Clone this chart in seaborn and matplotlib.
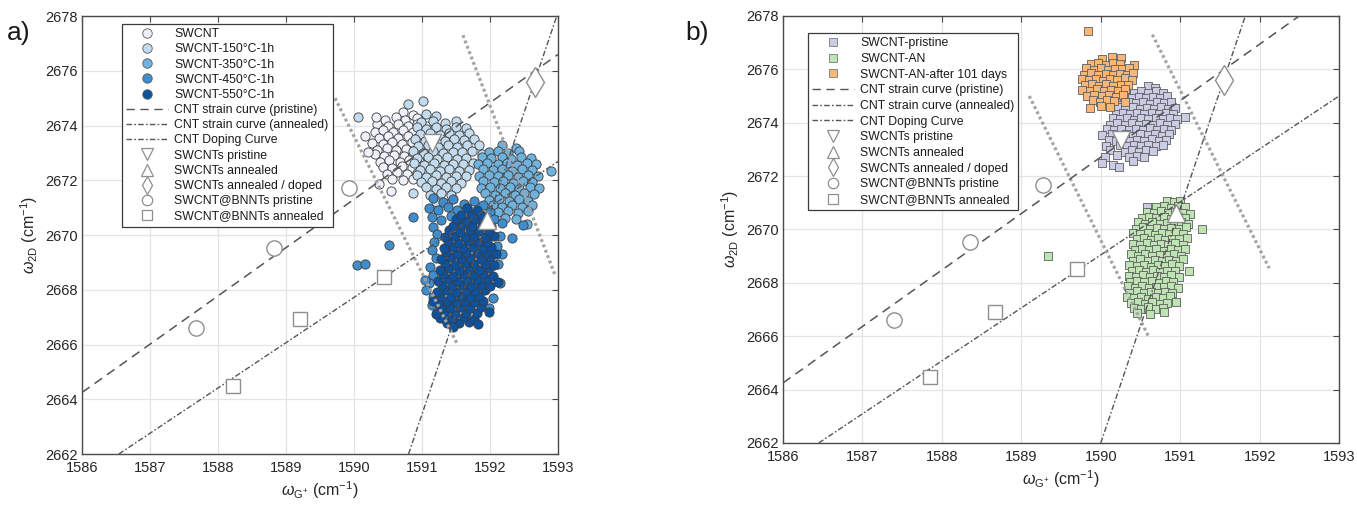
import matplotlib
matplotlib.use("Agg")
import matplotlib.pyplot as plt
from matplotlib.lines import Line2D
import pandas as pd
import seaborn as sns

sns.set_theme(style="white")
plt.rcParams["font.family"] = ["Liberation Sans", "DejaVu Sans"]
plt.rcParams["mathtext.fontset"] = "custom"
plt.rcParams["mathtext.rm"] = "Liberation Sans"
plt.rcParams["mathtext.it"] = "Liberation Sans:italic"

X_TICKS = [1586, 1587, 1588, 1589, 1590, 1591, 1592, 1593]
Y_TICKS = [2662, 2664, 2666, 2668, 2670, 2672, 2674, 2676, 2678]

# ====================== panel a: reference curves and points ======================
A_STRAIN_PRISTINE = [(1586.0, 2664.25), (1593.0, 2676.6)]
A_STRAIN_ANNEALED = [(1586.54, 2662.0), (1593.0, 2672.69)]
A_DOPING_CURVE = [(1590.8, 2662.0), (1592.98, 2678.0)]
A_GUIDE_LEFT = [(1589.72, 2675.0), (1591.52, 2666.0)]
A_GUIDE_RIGHT = [(1591.6, 2677.3), (1592.96, 2668.5)]
A_REF_SWCNT_PRISTINE = (1591.15, 2673.36)
A_REF_SWCNT_ANNEALED = (1591.95, 2670.55)
A_REF_SWCNT_DOPED = (1592.66, 2675.6)
A_REF_BNNT_PRISTINE_X = [1587.68, 1588.82, 1589.92]
A_REF_BNNT_PRISTINE_Y = [2666.62, 2669.52, 2671.70]
A_REF_BNNT_ANNEALED_X = [1588.22, 1589.20, 1590.44]
A_REF_BNNT_ANNEALED_Y = [2664.48, 2666.92, 2668.48]

# ====================== panel b: reference curves and points ======================
B_STRAIN_PRISTINE = [(1586.0, 2664.25), (1592.5, 2678.0)]
B_STRAIN_ANNEALED = [(1586.45, 2662.0), (1593.0, 2675.0)]
B_DOPING_CURVE = [(1590.0, 2662.0), (1591.82, 2678.0)]
B_GUIDE_LEFT = [(1589.1, 2675.0), (1590.6, 2666.0)]
B_GUIDE_RIGHT = [(1590.65, 2677.3), (1592.12, 2668.55)]
B_REF_SWCNT_PRISTINE = (1590.26, 2673.36)
B_REF_SWCNT_ANNEALED = (1590.95, 2670.6)
B_REF_SWCNT_DOPED = (1591.55, 2675.6)
B_REF_BNNT_PRISTINE_X = [1587.40, 1588.35, 1589.27]
B_REF_BNNT_PRISTINE_Y = [2666.62, 2669.52, 2671.65]
B_REF_BNNT_ANNEALED_X = [1587.85, 1588.67, 1589.70]
B_REF_BNNT_ANNEALED_Y = [2664.48, 2666.92, 2668.50]

# ====================== panel a: heat-treated SWCNT maps ======================
SWCNT_RT = [
    (1590.72, 2674.48), (1590.86, 2674.40),
    (1590.46, 2674.22), (1590.61, 2674.30), (1590.75, 2674.20), (1590.92, 2674.27),
    (1590.34, 2674.05), (1590.50, 2673.98), (1590.64, 2674.06), (1590.79, 2673.97), (1590.93, 2674.04), (1591.06, 2673.99),
    (1590.30, 2673.78), (1590.43, 2673.84), (1590.57, 2673.76), (1590.72, 2673.83), (1590.86, 2673.77), (1591.00, 2673.85),
    (1590.36, 2673.55), (1590.50, 2673.61), (1590.64, 2673.54), (1590.79, 2673.62), (1590.93, 2673.56), (1591.06, 2673.60),
    (1590.27, 2673.38), (1590.42, 2673.33), (1590.56, 2673.40), (1590.70, 2673.34), (1590.85, 2673.39), (1590.99, 2673.31),
    (1590.33, 2673.12), (1590.48, 2673.18), (1590.62, 2673.11), (1590.76, 2673.16), (1590.91, 2673.10), (1591.04, 2673.17),
    (1590.31, 2672.95), (1590.44, 2672.89), (1590.58, 2672.94), (1590.73, 2672.88), (1590.87, 2672.96), (1591.00, 2672.90),
    (1590.38, 2672.68), (1590.52, 2672.74), (1590.67, 2672.67), (1590.81, 2672.73), (1590.96, 2672.69),
    (1590.42, 2672.50), (1590.56, 2672.45), (1590.70, 2672.51), (1590.85, 2672.46), (1590.98, 2672.52),
    (1590.48, 2672.24), (1590.63, 2672.29), (1590.78, 2672.22), (1590.92, 2672.28),
    (1590.56, 2672.06), (1590.72, 2672.00), (1590.87, 2672.05),
    (1590.20, 2673.05), (1590.16, 2673.62), (1590.37, 2671.85), (1590.54, 2671.60), (1590.32, 2674.30),
]

SWCNT_150 = [
    (1590.79, 2674.80), (1591.02, 2674.88),
    (1591.06, 2674.42), (1591.21, 2674.35),
    (1590.98, 2674.12), (1591.16, 2674.18), (1591.34, 2674.10), (1591.50, 2674.15),
    (1590.92, 2673.95), (1591.06, 2673.88), (1591.21, 2673.94), (1591.35, 2673.87), (1591.50, 2673.93), (1591.64, 2673.90),
    (1590.97, 2673.68), (1591.11, 2673.74), (1591.26, 2673.67), (1591.40, 2673.73), (1591.54, 2673.66), (1591.69, 2673.72),
    (1590.90, 2673.50), (1591.04, 2673.45), (1591.18, 2673.51), (1591.33, 2673.44), (1591.47, 2673.50), (1591.62, 2673.46), (1591.76, 2673.49),
    (1590.94, 2673.24), (1591.09, 2673.30), (1591.23, 2673.23), (1591.38, 2673.29), (1591.52, 2673.22), (1591.66, 2673.28),
    (1590.87, 2673.06), (1591.02, 2673.01), (1591.16, 2673.07), (1591.30, 2673.00), (1591.45, 2673.05), (1591.59, 2673.02), (1591.74, 2673.07),
    (1590.93, 2672.80), (1591.08, 2672.85), (1591.22, 2672.79), (1591.36, 2672.84), (1591.51, 2672.78), (1591.65, 2672.83),
    (1590.88, 2672.62), (1591.03, 2672.57), (1591.17, 2672.63), (1591.32, 2672.56), (1591.46, 2672.61), (1591.60, 2672.58), (1591.75, 2672.63),
    (1590.97, 2672.36), (1591.11, 2672.41), (1591.26, 2672.35), (1591.40, 2672.40), (1591.54, 2672.34), (1591.69, 2672.39),
    (1590.92, 2672.18), (1591.06, 2672.13), (1591.21, 2672.19), (1591.35, 2672.12), (1591.50, 2672.17), (1591.64, 2672.14),
    (1590.99, 2671.92), (1591.14, 2671.97), (1591.28, 2671.91), (1591.42, 2671.96), (1591.57, 2671.90),
    (1591.06, 2671.74), (1591.21, 2671.69), (1591.35, 2671.75), (1591.50, 2671.70),
    (1591.12, 2671.48), (1591.28, 2671.53), (1591.42, 2671.46),
    (1591.20, 2671.22), (1591.36, 2671.15),
    (1590.06, 2674.30), (1591.83, 2673.30), (1591.88, 2672.95), (1590.86, 2671.55),
]

SWCNT_350 = [
    (1592.17, 2673.28), (1592.38, 2673.18),
    (1591.98, 2673.02), (1592.12, 2673.08), (1592.26, 2673.00), (1592.43, 2673.06),
    (1591.88, 2672.85), (1592.02, 2672.80), (1592.17, 2672.86), (1592.31, 2672.79), (1592.46, 2672.84), (1592.60, 2672.81),
    (1591.82, 2672.59), (1591.96, 2672.64), (1592.11, 2672.58), (1592.25, 2672.63), (1592.40, 2672.57), (1592.54, 2672.62), (1592.68, 2672.60),
    (1591.89, 2672.41), (1592.04, 2672.36), (1592.18, 2672.42), (1592.32, 2672.35), (1592.47, 2672.40), (1592.61, 2672.37), (1592.90, 2672.33),
    (1591.83, 2672.15), (1591.98, 2672.20), (1592.12, 2672.14), (1592.26, 2672.19), (1592.41, 2672.13), (1592.55, 2672.18), (1592.70, 2672.16),
    (1591.90, 2671.97), (1592.05, 2671.92), (1592.19, 2671.98), (1592.34, 2671.91), (1592.48, 2671.96), (1592.62, 2671.93),
    (1591.86, 2671.71), (1592.00, 2671.76), (1592.14, 2671.70), (1592.29, 2671.75), (1592.43, 2671.69), (1592.58, 2671.74), (1592.72, 2671.72),
    (1591.93, 2671.53), (1592.07, 2671.48), (1592.22, 2671.54), (1592.36, 2671.47), (1592.50, 2671.52), (1592.65, 2671.49),
    (1591.99, 2671.27), (1592.13, 2671.32), (1592.28, 2671.26), (1592.42, 2671.31), (1592.56, 2671.25),
    (1592.04, 2671.09), (1592.18, 2671.04), (1592.32, 2671.10), (1592.47, 2671.03), (1592.61, 2671.08),
    (1592.12, 2670.83), (1592.26, 2670.88), (1592.41, 2670.82), (1592.55, 2670.86),
    (1592.22, 2670.62), (1592.38, 2670.57), (1592.54, 2670.40),
]

SWCNT_450 = [
    (1591.16, 2671.35), (1591.30, 2671.20), (1591.46, 2671.30), (1591.62, 2671.15), (1591.76, 2671.25), (1591.90, 2671.10),
    (1591.10, 2671.00), (1591.23, 2670.90), (1591.38, 2671.02), (1591.52, 2670.92), (1591.66, 2671.00), (1592.00, 2670.85),
    (1591.14, 2670.65), (1591.28, 2670.55), (1591.42, 2670.70), (1592.06, 2670.60), (1592.18, 2670.45),
    (1591.16, 2670.30), (1591.22, 2670.05), (1591.18, 2669.75), (1591.14, 2669.45), (1591.20, 2669.15),
    (1591.12, 2668.85), (1591.16, 2668.55), (1591.10, 2668.25), (1591.06, 2668.00), (1591.16, 2667.75),
    (1591.14, 2667.45), (1591.22, 2667.20),
    (1592.14, 2669.95), (1592.10, 2669.60), (1592.18, 2669.30), (1592.12, 2668.95), (1592.14, 2668.25),
    (1592.04, 2667.70), (1591.98, 2667.35),
    (1590.87, 2670.65), (1590.51, 2669.65), (1590.04, 2668.90), (1590.16, 2668.95), (1591.04, 2668.35),
    (1592.32, 2669.90), (1592.48, 2670.35), (1591.34, 2666.95),
]

SWCNT_550 = [
    (1591.36, 2666.80), (1591.54, 2666.77), (1591.69, 2666.83),
    (1591.26, 2666.97), (1591.44, 2666.93), (1591.62, 2666.99), (1591.76, 2666.94),
    (1591.21, 2667.13), (1591.34, 2667.18), (1591.48, 2667.12), (1591.64, 2667.17), (1591.80, 2667.14),
    (1591.28, 2667.37), (1591.41, 2667.32), (1591.56, 2667.38), (1591.71, 2667.33), (1591.86, 2667.36),
    (1591.23, 2667.53), (1591.36, 2667.58), (1591.50, 2667.52), (1591.63, 2667.57), (1591.76, 2667.54), (1591.89, 2667.59),
    (1591.27, 2667.77), (1591.42, 2667.72), (1591.57, 2667.78), (1591.70, 2667.73), (1591.84, 2667.76),
    (1591.22, 2667.93), (1591.35, 2667.98), (1591.50, 2667.92), (1591.64, 2667.97), (1591.78, 2667.94), (1591.93, 2667.99),
    (1591.29, 2668.17), (1591.44, 2668.12), (1591.58, 2668.18), (1591.72, 2668.13), (1591.87, 2668.16), (1592.00, 2668.12),
    (1591.24, 2668.33), (1591.38, 2668.38), (1591.52, 2668.32), (1591.66, 2668.37), (1591.81, 2668.34), (1591.95, 2668.39),
    (1591.30, 2668.57), (1591.46, 2668.52), (1591.60, 2668.58), (1591.75, 2668.53), (1591.89, 2668.56), (1592.04, 2668.52),
    (1591.26, 2668.73), (1591.40, 2668.78), (1591.54, 2668.72), (1591.69, 2668.77), (1591.83, 2668.74), (1591.98, 2668.79),
    (1591.33, 2668.97), (1591.48, 2668.92), (1591.63, 2668.98), (1591.77, 2668.93), (1591.92, 2668.96), (1592.06, 2668.92),
    (1591.28, 2669.13), (1591.42, 2669.18), (1591.57, 2669.12), (1591.71, 2669.17), (1591.86, 2669.14), (1592.00, 2669.19),
    (1591.35, 2669.37), (1591.51, 2669.32), (1591.65, 2669.38), (1591.80, 2669.33), (1591.94, 2669.36), (1592.08, 2669.32),
    (1591.32, 2669.53), (1591.46, 2669.58), (1591.60, 2669.52), (1591.75, 2669.57), (1591.89, 2669.54), (1592.02, 2669.58),
    (1591.38, 2669.77), (1591.53, 2669.72), (1591.68, 2669.78), (1591.82, 2669.73), (1591.96, 2669.76),
    (1591.34, 2669.93), (1591.48, 2669.98), (1591.63, 2669.92), (1591.77, 2669.97), (1591.92, 2669.94), (1592.05, 2669.98),
    (1591.40, 2670.17), (1591.56, 2670.12), (1591.70, 2670.18), (1591.84, 2670.13), (1591.99, 2670.16),
    (1591.45, 2670.33), (1591.59, 2670.38), (1591.74, 2670.32), (1591.88, 2670.37), (1592.01, 2670.34),
    (1591.50, 2670.57), (1591.64, 2670.52), (1591.78, 2670.58), (1591.93, 2670.53),
    (1591.57, 2670.73), (1591.72, 2670.78), (1591.87, 2670.74),
    (1591.66, 2670.97), (1591.81, 2670.93),
    (1591.16, 2667.60), (1591.98, 2667.20), (1592.12, 2668.30), (1591.46, 2666.65), (1591.82, 2666.75),
]

# ====================== panel b: pristine / annealed / aged SWCNT maps ======================
SWCNT_PRISTINE = [
    (1590.60, 2675.38), (1590.68, 2675.30),
    (1590.42, 2675.12), (1590.51, 2675.18), (1590.60, 2675.11), (1590.69, 2675.17), (1590.78, 2675.13),
    (1590.30, 2674.97), (1590.39, 2674.92), (1590.48, 2674.98), (1590.57, 2674.91), (1590.66, 2674.96), (1590.75, 2674.93), (1590.84, 2674.99),
    (1590.26, 2674.73), (1590.35, 2674.78), (1590.44, 2674.72), (1590.53, 2674.77), (1590.62, 2674.71), (1590.71, 2674.76), (1590.80, 2674.73), (1590.89, 2674.78),
    (1590.22, 2674.57), (1590.31, 2674.52), (1590.40, 2674.58), (1590.49, 2674.51), (1590.58, 2674.56), (1590.67, 2674.53), (1590.76, 2674.59), (1590.85, 2674.52), (1590.94, 2674.56),
    (1590.19, 2674.33), (1590.28, 2674.38), (1590.37, 2674.32), (1590.46, 2674.37), (1590.55, 2674.31), (1590.64, 2674.36), (1590.73, 2674.33), (1590.82, 2674.38), (1590.91, 2674.32), (1591.06, 2674.22),
    (1590.15, 2674.17), (1590.24, 2674.12), (1590.33, 2674.18), (1590.42, 2674.11), (1590.51, 2674.16), (1590.60, 2674.13), (1590.69, 2674.19), (1590.78, 2674.12), (1590.87, 2674.17), (1590.96, 2674.13),
    (1590.12, 2673.93), (1590.21, 2673.98), (1590.30, 2673.92), (1590.39, 2673.97), (1590.48, 2673.91), (1590.57, 2673.96), (1590.66, 2673.93), (1590.75, 2673.98), (1590.84, 2673.92), (1590.93, 2673.96),
    (1590.08, 2673.77), (1590.17, 2673.72), (1590.26, 2673.78), (1590.35, 2673.71), (1590.44, 2673.76), (1590.53, 2673.73), (1590.62, 2673.79), (1590.71, 2673.72), (1590.80, 2673.77), (1590.89, 2673.73),
    (1590.02, 2673.53), (1590.14, 2673.58), (1590.23, 2673.52), (1590.32, 2673.57), (1590.41, 2673.51), (1590.50, 2673.56), (1590.59, 2673.53), (1590.68, 2673.58), (1590.77, 2673.52), (1590.86, 2673.56),
    (1590.10, 2673.37), (1590.19, 2673.32), (1590.28, 2673.38), (1590.37, 2673.31), (1590.46, 2673.36), (1590.55, 2673.33), (1590.64, 2673.39), (1590.73, 2673.32), (1590.82, 2673.36),
    (1590.06, 2673.13), (1590.24, 2673.18), (1590.33, 2673.12), (1590.42, 2673.17), (1590.51, 2673.11), (1590.60, 2673.16), (1590.69, 2673.13), (1590.78, 2673.18),
    (1590.12, 2672.97), (1590.30, 2672.92), (1590.39, 2672.98), (1590.48, 2672.91), (1590.57, 2672.96), (1590.66, 2672.93),
    (1590.05, 2672.73), (1590.20, 2672.78), (1590.36, 2672.72), (1590.45, 2672.77), (1590.55, 2672.71),
    (1590.02, 2672.50), (1590.15, 2672.40), (1590.40, 2672.55), (1590.23, 2672.33),
    (1590.58, 2670.84),
]

SWCNT_AN = [
    (1590.83, 2671.08), (1590.92, 2671.02), (1591.00, 2671.06),
    (1590.70, 2670.83), (1590.79, 2670.88), (1590.88, 2670.82), (1590.97, 2670.87), (1591.06, 2670.84),
    (1590.58, 2670.67), (1590.67, 2670.62), (1590.76, 2670.68), (1590.85, 2670.61), (1590.94, 2670.66), (1591.03, 2670.63), (1591.12, 2670.58),
    (1590.52, 2670.43), (1590.61, 2670.48), (1590.70, 2670.42), (1590.79, 2670.47), (1590.88, 2670.41), (1590.97, 2670.46), (1591.06, 2670.43),
    (1590.47, 2670.27), (1590.56, 2670.22), (1590.65, 2670.28), (1590.74, 2670.21), (1590.83, 2670.26), (1590.92, 2670.23), (1591.01, 2670.29), (1591.10, 2670.22),
    (1590.44, 2670.03), (1590.53, 2670.08), (1590.62, 2670.02), (1590.71, 2670.07), (1590.80, 2670.01), (1590.89, 2670.06), (1590.98, 2670.03), (1591.07, 2670.08),
    (1590.41, 2669.87), (1590.50, 2669.82), (1590.59, 2669.88), (1590.68, 2669.81), (1590.77, 2669.86), (1590.86, 2669.83), (1590.95, 2669.89), (1591.04, 2669.82),
    (1590.45, 2669.63), (1590.54, 2669.68), (1590.63, 2669.62), (1590.72, 2669.67), (1590.81, 2669.61), (1590.90, 2669.66), (1590.99, 2669.63), (1591.08, 2669.68),
    (1590.40, 2669.47), (1590.49, 2669.42), (1590.58, 2669.48), (1590.67, 2669.41), (1590.76, 2669.46), (1590.85, 2669.43), (1590.94, 2669.49), (1591.03, 2669.42),
    (1590.43, 2669.23), (1590.52, 2669.28), (1590.61, 2669.22), (1590.70, 2669.27), (1590.79, 2669.21), (1590.88, 2669.26), (1590.97, 2669.23), (1591.06, 2669.28),
    (1590.38, 2669.07), (1590.47, 2669.02), (1590.56, 2669.08), (1590.65, 2669.01), (1590.74, 2669.06), (1590.83, 2669.03), (1590.92, 2669.09), (1591.01, 2669.02),
    (1590.41, 2668.83), (1590.50, 2668.88), (1590.59, 2668.82), (1590.68, 2668.87), (1590.77, 2668.81), (1590.86, 2668.86), (1590.95, 2668.83), (1591.04, 2668.88),
    (1590.36, 2668.67), (1590.45, 2668.62), (1590.54, 2668.68), (1590.63, 2668.61), (1590.72, 2668.66), (1590.81, 2668.63), (1590.90, 2668.69), (1590.99, 2668.62),
    (1590.39, 2668.43), (1590.48, 2668.48), (1590.57, 2668.42), (1590.66, 2668.47), (1590.75, 2668.41), (1590.84, 2668.46), (1590.93, 2668.43), (1591.11, 2668.45),
    (1590.35, 2668.27), (1590.44, 2668.22), (1590.53, 2668.28), (1590.62, 2668.21), (1590.71, 2668.26), (1590.80, 2668.23), (1590.89, 2668.29), (1590.98, 2668.22),
    (1590.37, 2668.03), (1590.46, 2668.08), (1590.55, 2668.02), (1590.64, 2668.07), (1590.73, 2668.01), (1590.82, 2668.06), (1590.91, 2668.03),
    (1590.34, 2667.87), (1590.43, 2667.82), (1590.52, 2667.88), (1590.61, 2667.81), (1590.70, 2667.86), (1590.79, 2667.83), (1590.88, 2667.89), (1590.97, 2667.82),
    (1590.36, 2667.63), (1590.45, 2667.68), (1590.54, 2667.62), (1590.63, 2667.67), (1590.72, 2667.61), (1590.81, 2667.66), (1590.90, 2667.63),
    (1590.33, 2667.47), (1590.42, 2667.42), (1590.51, 2667.48), (1590.60, 2667.41), (1590.69, 2667.46), (1590.78, 2667.43), (1590.87, 2667.49),
    (1590.38, 2667.23), (1590.47, 2667.28), (1590.56, 2667.22), (1590.65, 2667.27), (1590.74, 2667.21), (1590.83, 2667.26), (1590.95, 2667.30),
    (1590.42, 2667.07), (1590.51, 2667.02), (1590.60, 2667.08), (1590.69, 2667.01), (1590.78, 2667.06),
    (1590.46, 2666.88), (1590.62, 2666.85), (1590.80, 2666.92),
    (1589.33, 2669.00), (1591.27, 2670.00),
]

SWCNT_AN_101D = [
    (1590.02, 2676.40), (1590.14, 2676.45), (1590.26, 2676.42),
    (1589.88, 2676.20), (1589.97, 2676.25), (1590.06, 2676.18), (1590.15, 2676.24), (1590.24, 2676.21), (1590.42, 2676.15),
    (1589.82, 2676.04), (1589.91, 2675.99), (1590.00, 2676.05), (1590.09, 2675.98), (1590.18, 2676.03), (1590.27, 2676.00), (1590.36, 2676.06),
    (1589.79, 2675.80), (1589.88, 2675.85), (1589.97, 2675.79), (1590.06, 2675.84), (1590.15, 2675.78), (1590.24, 2675.83), (1590.33, 2675.80), (1590.41, 2675.86),
    (1589.76, 2675.64), (1589.85, 2675.59), (1589.94, 2675.65), (1590.03, 2675.58), (1590.12, 2675.63), (1590.21, 2675.60), (1590.30, 2675.66), (1590.39, 2675.61),
    (1589.80, 2675.40), (1589.89, 2675.45), (1589.98, 2675.39), (1590.07, 2675.44), (1590.16, 2675.38), (1590.25, 2675.43), (1590.34, 2675.40),
    (1589.77, 2675.24), (1589.86, 2675.19), (1589.95, 2675.25), (1590.04, 2675.18), (1590.13, 2675.23), (1590.22, 2675.20), (1590.31, 2675.25),
    (1589.83, 2675.00), (1589.92, 2675.05), (1590.01, 2674.99), (1590.10, 2675.04), (1590.19, 2674.98), (1590.28, 2675.03),
    (1589.90, 2674.84), (1589.99, 2674.79), (1590.08, 2674.85), (1590.17, 2674.80), (1590.30, 2674.78),
    (1590.00, 2674.63), (1590.12, 2674.58), (1589.86, 2674.55),
    (1589.84, 2677.42),
]

SERIES_A = [
    ("SWCNT", SWCNT_RT, "#eef1fa"),
    ("SWCNT-150°C-1h", SWCNT_150, "#c3dbee"),
    ("SWCNT-350°C-1h", SWCNT_350, "#71b2dd"),
    ("SWCNT-450°C-1h", SWCNT_450, "#3f8dcc"),
    ("SWCNT-550°C-1h", SWCNT_550, "#0d529f"),
]
SERIES_B = [
    ("SWCNT-pristine", SWCNT_PRISTINE, "#cacce5"),
    ("SWCNT-AN", SWCNT_AN, "#bfe4b3"),
    ("SWCNT-AN-after 101 days", SWCNT_AN_101D, "#f9b677"),
]

REFS_A = dict(strain_p=A_STRAIN_PRISTINE, strain_a=A_STRAIN_ANNEALED, doping=A_DOPING_CURVE,
              guides=(A_GUIDE_LEFT, A_GUIDE_RIGHT), tri_down=A_REF_SWCNT_PRISTINE,
              tri_up=A_REF_SWCNT_ANNEALED, diamond=A_REF_SWCNT_DOPED,
              circ=(A_REF_BNNT_PRISTINE_X, A_REF_BNNT_PRISTINE_Y),
              sq=(A_REF_BNNT_ANNEALED_X, A_REF_BNNT_ANNEALED_Y))
REFS_B = dict(strain_p=B_STRAIN_PRISTINE, strain_a=B_STRAIN_ANNEALED, doping=B_DOPING_CURVE,
              guides=(B_GUIDE_LEFT, B_GUIDE_RIGHT), tri_down=B_REF_SWCNT_PRISTINE,
              tri_up=B_REF_SWCNT_ANNEALED, diamond=B_REF_SWCNT_DOPED,
              circ=(B_REF_BNNT_PRISTINE_X, B_REF_BNNT_PRISTINE_Y),
              sq=(B_REF_BNNT_ANNEALED_X, B_REF_BNNT_ANNEALED_Y))

LINE_COL = "#555555"
GUIDE_COL = "#a3a3a3"
REF_EDGE = "#8f8f8f"
DASH_STRAIN = (0, (6, 4))
DASH_DOT = (0, (4, 1.6, 1.2, 1.6))


def line_frame(pts):
    return pd.DataFrame({"x": [p[0] for p in pts], "y": [p[1] for p in pts]})


def draw_references(ax, r):
    for pts in r["guides"]:
        d = line_frame(pts)
        ax.plot(d.x, d.y, color=GUIDE_COL, lw=2.3, ls=(0, (0.9, 0.9)), zorder=4)
    d = line_frame(r["strain_p"])
    ax.plot(d.x, d.y, color=LINE_COL, lw=1.1, ls=DASH_STRAIN, zorder=4)
    for pts in (r["strain_a"], r["doping"]):
        d = line_frame(pts)
        ax.plot(d.x, d.y, color=LINE_COL, lw=1.0, ls=DASH_DOT, zorder=4)

    kw = dict(ls="none", mfc="white", mec=REF_EDGE, mew=1.0, zorder=6)
    ax.plot(*r["tri_down"], marker="v", ms=13, **kw)
    ax.plot(*r["tri_up"], marker="^", ms=13, **kw)
    ax.plot(*r["diamond"], marker="d", ms=15, **kw)
    ax.plot(*r["circ"], marker="o", ms=11, **kw)
    ax.plot(*r["sq"], marker="s", ms=9.5, **kw)


def style_axes(ax):
    ax.set_xlim(X_TICKS[0], X_TICKS[-1])
    ax.set_ylim(Y_TICKS[0], Y_TICKS[-1])
    ax.set_xticks(X_TICKS)
    ax.set_yticks(Y_TICKS)
    ax.grid(True, color="#e4e4e4", lw=0.9)
    ax.set_axisbelow(True)
    for s in ax.spines.values():
        s.set_color("#4a4a4a")
        s.set_linewidth(1.0)
        s.set_visible(True)
    ax.tick_params(direction="in", top=True, right=True, length=4, width=0.8,
                   color="#4a4a4a", labelcolor="#262626", labelsize=10.5)
    ax.tick_params(axis="x", pad=5)
    ax.tick_params(axis="y", pad=3)
    ax.set_xlabel(r"$\omega_{\mathrm{G^{+}}}$ (cm$^{-1}$)", fontsize=11.5, color="#262626", labelpad=3)
    ax.set_ylabel(r"$\omega_{\mathrm{2D}}$ (cm$^{-1}$)", fontsize=11.5, color="#262626", labelpad=4)


def reference_handles():
    kw = dict(ls="none", mfc="white", mec=REF_EDGE, mew=0.9)
    return [
        Line2D([], [], color=LINE_COL, lw=1.0, ls=DASH_STRAIN, label="CNT strain curve (pristine)"),
        Line2D([], [], color=LINE_COL, lw=1.0, ls=DASH_DOT, label="CNT strain curve (annealed)"),
        Line2D([], [], color=LINE_COL, lw=1.0, ls=DASH_DOT, label="CNT Doping Curve"),
        Line2D([], [], marker="v", ms=8.5, label="SWCNTs pristine", **kw),
        Line2D([], [], marker="^", ms=8.5, label="SWCNTs annealed", **kw),
        Line2D([], [], marker="d", ms=9, label="SWCNTs annealed / doped", **kw),
        Line2D([], [], marker="o", ms=7.5, label="SWCNT@BNNTs pristine", **kw),
        Line2D([], [], marker="s", ms=6.5, label="SWCNT@BNNTs annealed", **kw),
    ]


def add_legend(ax, handles, anchor, spacing):
    leg = ax.legend(handles=handles, loc="upper left", bbox_to_anchor=anchor,
                    fontsize=8.8, frameon=True, fancybox=False, framealpha=1,
                    edgecolor="#3a3a3a", borderpad=0.35, labelspacing=spacing,
                    handlelength=3.4, handletextpad=0.5, borderaxespad=0)
    leg.get_frame().set_linewidth(0.9)
    for t in leg.get_texts():
        t.set_color("#1a1a1a")
    leg.set_zorder(10)


fig = plt.figure(figsize=(13.57, 5.09), dpi=100)
ax_a = fig.add_axes([0.0605, 0.108, 0.3508, 0.8605])
ax_b = fig.add_axes([0.577, 0.1297, 0.4098, 0.839])

# panel a
handles_a = []
for name, pts, col in SERIES_A:
    df = pd.DataFrame(pts, columns=["x", "y"])
    sns.scatterplot(data=df, x="x", y="y", ax=ax_a, marker="o", s=44, color=col,
                    edgecolor="#3c3c3c", linewidth=0.6, legend=False, zorder=3)
    handles_a.append(Line2D([], [], ls="none", marker="o", ms=6.8, mfc=col,
                            mec="#5a5a5a", mew=0.6, label=name))
draw_references(ax_a, REFS_A)
style_axes(ax_a)
add_legend(ax_a, handles_a + reference_handles(), (0.084, 0.982), 0.26)

# panel b
handles_b = []
for name, pts, col in SERIES_B:
    df = pd.DataFrame(pts, columns=["x", "y"])
    sns.scatterplot(data=df, x="x", y="y", ax=ax_b, marker="s", s=26, color=col,
                    edgecolor="#5e5e5e", linewidth=0.6, legend=False, zorder=3)
    handles_b.append(Line2D([], [], ls="none", marker="s", ms=6.0, mfc=col,
                            mec="#7a7a7a", mew=0.6, label=name))
draw_references(ax_b, REFS_B)
style_axes(ax_b)
add_legend(ax_b, handles_b + reference_handles(), (0.045, 0.96), 0.30)

fig.text(0.005, 0.935, "a)", fontsize=19, va="center", ha="left", color="#1a1a1a")
fig.text(0.505, 0.935, "b)", fontsize=19, va="center", ha="left", color="#1a1a1a")

fig.savefig("out.png", dpi=100)
